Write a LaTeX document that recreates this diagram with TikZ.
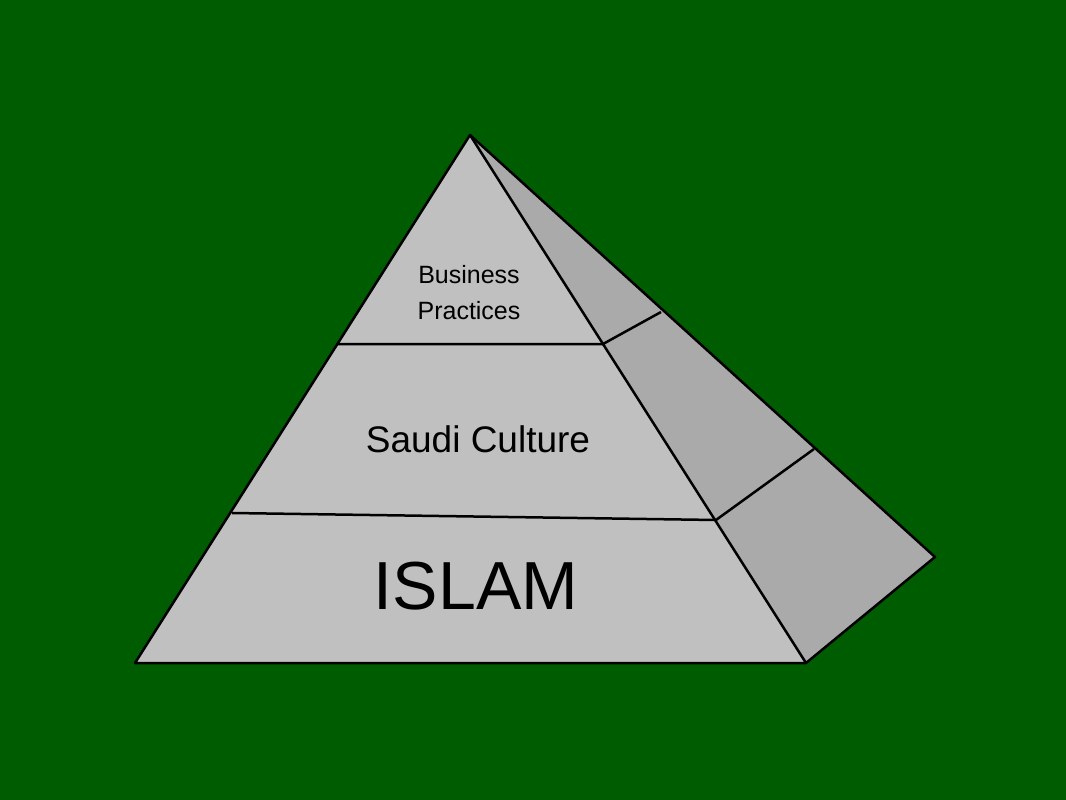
\documentclass[tikz,border=0pt]{standalone}
\usepackage{fontspec}
\setmainfont{Liberation Sans}
\definecolor{bg}{RGB}{0,92,0}
\definecolor{front}{RGB}{192,192,192}
\definecolor{side}{RGB}{170,170,170}
\begin{document}
\begin{tikzpicture}[x=1pt,y=-1pt,edge/.style={line width=2.5pt,line join=round}]
\fill[bg] (0,0) rectangle (1066,800);
\useasboundingbox (0,0) rectangle (1066,800);
\coordinate (A) at (470,135);
\coordinate (BL) at (135,663);
\coordinate (BR) at (806,663);
\coordinate (S) at (935,557);
\fill[side] (A) -- (S) -- (BR) -- cycle;
\fill[front] (A) -- (BR) -- (BL) -- cycle;
\draw[edge] (A) -- (S) -- (BR) -- (BL) -- cycle;
\draw[edge] (A) -- (BR);
\draw[edge] (337,344) -- (603,344) -- (661,312);
\draw[edge] (232,513) -- (716,520) -- (814,449);
\node[font=\fontsize{25}{36}\selectfont,align=center] (bp) at (469,293) {Business\\Practices};
\node[font=\fontsize{37}{44}\selectfont] (sc) at (478,439) {Saudi Culture};
\node[font=\fontsize{68}{80}\selectfont] (is) at (476,586) {ISLAM};
\end{tikzpicture}
\end{document}
